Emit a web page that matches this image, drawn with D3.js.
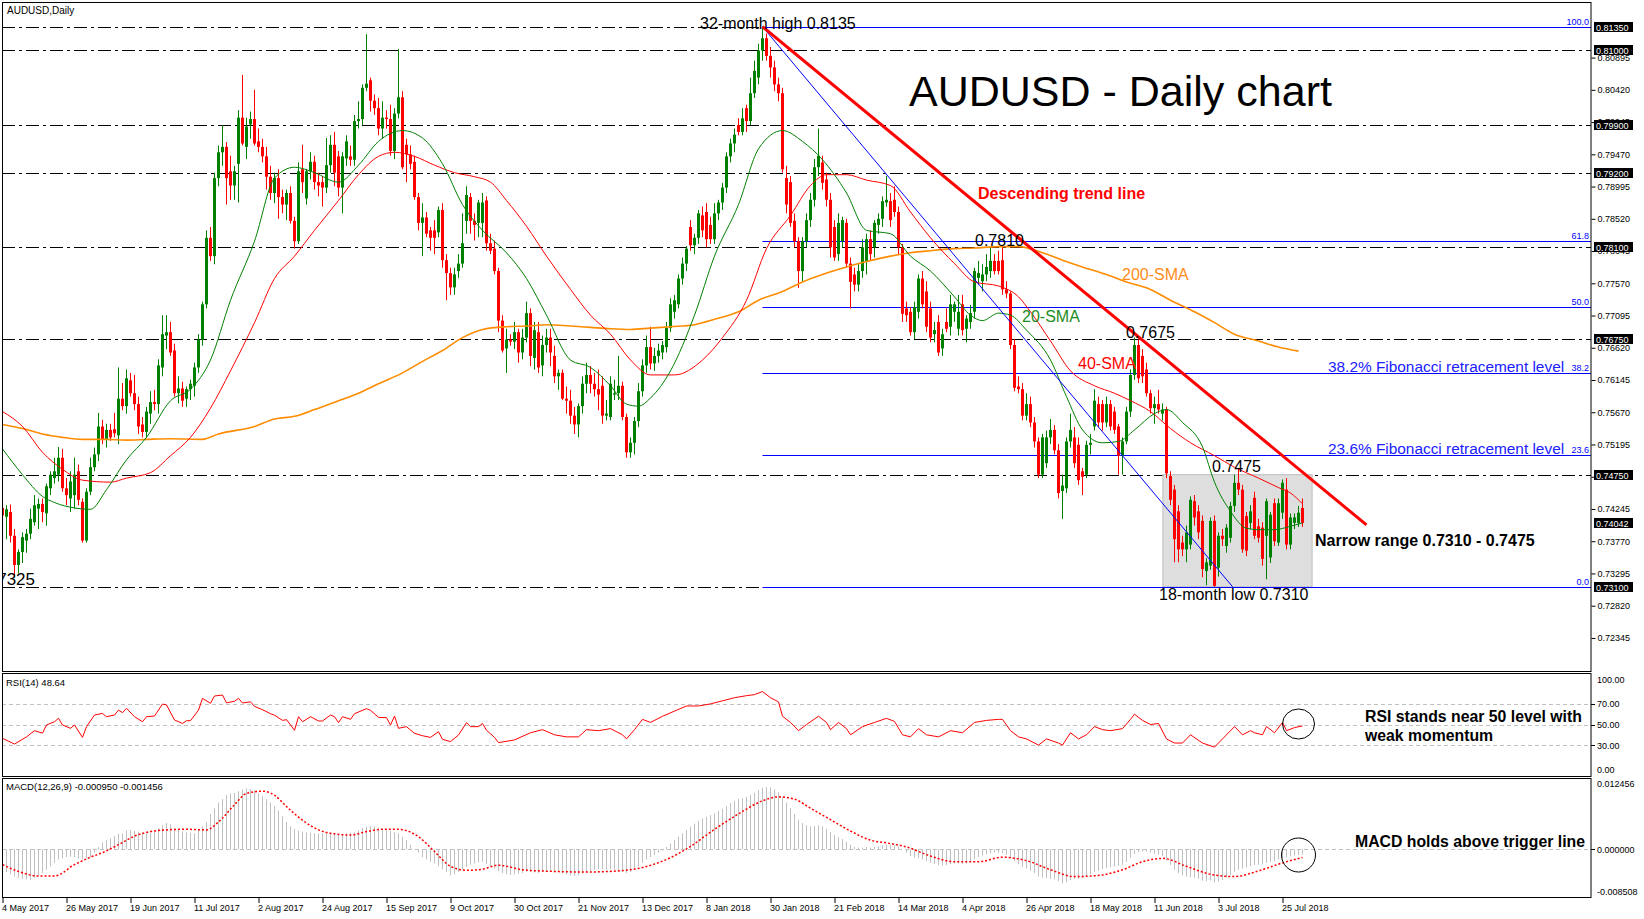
<!DOCTYPE html>
<html><head><meta charset="utf-8">
<script src="https://cdn.jsdelivr.net/npm/d3@7"></script>
<style>
html,body{margin:0;padding:0;background:#fff;}
svg{display:block;font-family:"Liberation Sans",Arial,sans-serif;}
</style></head><body>
<svg id="chart" width="1644" height="919"></svg>
<script>
// ---------------- DATA ----------------
const opens=[
.7426,.7413,.7420,.7385,.7342,.7361,.7378,.7388,.7405,.7425,
.7432,.7418,.7455,.7470,.7475,.7500,.7455,.7440,.7445,.7480,
.7435,.7378,.7450,.7486,.7505,.7546,.7527,.7541,.7542,.7533,
.7587,.7576,.7614,.7595,.7579,.7549,.7538,.7565,.7582,.7579,
.7633,.7680,.7685,.7658,.7595,.7602,.7587,.7601,.7606,.7633,
.7674,.7726,.7824,.7797,.7912,.7950,.7958,.7922,.7901,.7933,
.8001,.7958,.7991,.7999,.7966,.7958,.7944,.7914,.7890,.7912,
.7884,.7873,.7890,.7849,.7819,.7925,.7882,.7922,.7936,.7906,
.7906,.7898,.7931,.7961,.7944,.7898,.7941,.7944,.7939,.7996,
.7999,.8045,.8056,.8026,.8015,.7985,.8001,.7999,.7952,.8007,
.8031,.7961,.7947,.7936,.7884,.7846,.7854,.7835,.7835,.7832,
.7865,.7791,.7772,.7751,.7775,.7786,.7849,.7884,.7849,.7846,
.7846,.7879,.7816,.7808,.7775,.7702,.7661,.7674,.7671,.7685,
.7655,.7677,.7713,.7647,.7685,.7636,.7666,.7677,.7650,.7620,
.7625,.7587,.7584,.7562,.7549,.7576,.7609,.7622,.7609,.7601,
.7606,.7562,.7560,.7593,.7595,.7606,.7560,.7508,.7522,.7554,
.7598,.7636,.7663,.7639,.7650,.7655,.7663,.7691,.7715,.7726,
.7764,.7786,.7840,.7813,.7824,.7857,.7862,.7843,.7822,.7860,
.7876,.7898,.7944,.7963,.7990,.7980,.8015,.7996,.8037,.8060,
.8100,.8118,.8092,.8075,.8050,.8037,.7912,.7906,.7849,.7819,
.7775,.7819,.7850,.7880,.7928,.7935,.7910,.7880,.7840,.7800,
.7819,.7846,.7786,.7770,.7755,.7775,.7790,.7822,.7810,.7843,
.7852,.7876,.7878,.7880,.7862,.7810,.7720,.7715,.7685,.7715,
.7764,.7745,.7720,.7682,.7700,.7661,.7700,.7693,.7715,.7690,
.7726,.7690,.7700,.7715,.7765,.7760,.7770,.7775,.7790,.7790,
.7791,.7748,.7742,.7666,.7605,.7601,.7562,.7579,.7552,.7524,
.7475,.7492,.7530,.7541,.7511,.7451,.7455,.7524,.7530,.7519,
.7480,.7475,.7519,.7546,.7579,.7579,.7552,.7579,.7568,.7546,
.7503,.7524,.7568,.7622,.7666,.7650,.7630,.7595,.7573,.7579,
.7565,.7571,.7473,.7453,.7421,.7375,.7365,.7372,.7436,.7421,
.7407,.7333,.7341,.7407,.7338,.7385,.7370,.7382,.7429,.7463,
.7453,.7414,.7404,.7441,.7399,.7397,.7385,.7353,.7433,.7375,
.7419,.7453,.7372,.7404,.7404,.7426];
const highs=[
.7440,.7430,.7431,.7395,.7365,.7390,.7395,.7425,.7445,.7440,
.7440,.7462,.7480,.7500,.7516,.7513,.7470,.7480,.7500,.7490,
.7440,.7455,.7500,.7515,.7566,.7556,.7550,.7550,.7566,.7633,
.7610,.7630,.7625,.7622,.7590,.7560,.7575,.7598,.7600,.7645,
.7710,.7710,.7700,.7668,.7620,.7612,.7605,.7615,.7640,.7682,
.7730,.7835,.7840,.7920,.7960,.7990,.7965,.7945,.7930,.8012,
.8064,.8001,.8010,.8042,.7985,.7970,.7958,.7930,.7920,.7925,
.7895,.7895,.7900,.7855,.7935,.7961,.7925,.7950,.7945,.7920,
.7915,.7971,.7975,.7980,.7952,.7950,.7975,.7960,.8005,.8025,
.8050,.8124,.8060,.8035,.8030,.8025,.8012,.8020,.8015,.8102,
.8040,.7970,.7960,.7945,.7890,.7875,.7862,.7840,.7850,.7870,
.7875,.7800,.7780,.7780,.7800,.7860,.7900,.7890,.7860,.7880,
.7890,.7885,.7830,.7820,.7780,.7710,.7690,.7682,.7700,.7690,
.7690,.7730,.7720,.7700,.7700,.7680,.7690,.7690,.7665,.7630,
.7630,.7605,.7600,.7575,.7580,.7620,.7640,.7635,.7625,.7630,
.7620,.7585,.7620,.7615,.7650,.7612,.7565,.7530,.7560,.7610,
.7645,.7680,.7693,.7662,.7668,.7672,.7700,.7735,.7740,.7770,
.7795,.7812,.7850,.7830,.7865,.7870,.7875,.7855,.7875,.7880,
.7905,.7950,.7970,.7985,.8000,.8015,.8020,.8060,.8085,.8110,
.8135,.8125,.8105,.8085,.8060,.8045,.7930,.7915,.7860,.7825,
.7825,.7860,.7890,.7940,.7985,.7945,.7920,.7890,.7850,.7860,
.7855,.7852,.7795,.7780,.7785,.7822,.7830,.7835,.7850,.7860,
.7885,.7915,.7890,.7900,.7870,.7815,.7730,.7722,.7730,.7770,
.7775,.7760,.7730,.7700,.7710,.7690,.7720,.7740,.7730,.7740,
.7740,.7710,.7725,.7780,.7790,.7785,.7800,.7810,.7800,.7805,
.7812,.7760,.7745,.7675,.7620,.7610,.7595,.7590,.7560,.7530,
.7535,.7540,.7557,.7548,.7520,.7475,.7530,.7565,.7545,.7530,
.7485,.7525,.7535,.7601,.7590,.7585,.7590,.7585,.7575,.7550,
.7530,.7575,.7630,.7677,.7674,.7660,.7640,.7600,.7590,.7600,
.7580,.7575,.7480,.7460,.7430,.7385,.7400,.7443,.7445,.7430,
.7415,.7352,.7412,.7415,.7390,.7395,.7402,.7435,.7475,.7485,
.7460,.7420,.7430,.7450,.7410,.7405,.7440,.7420,.7440,.7440,
.7468,.7470,.7418,.7418,.7429,.7440];
const lows=[
.7395,.7380,.7375,.7325,.7330,.7345,.7360,.7380,.7400,.7395,
.7405,.7400,.7445,.7462,.7465,.7450,.7430,.7420,.7425,.7430,
.7375,.7375,.7445,.7480,.7495,.7520,.7515,.7525,.7530,.7520,
.7570,.7565,.7590,.7570,.7535,.7530,.7530,.7550,.7570,.7565,
.7620,.7660,.7650,.7590,.7580,.7575,.7575,.7585,.7590,.7625,
.7665,.7720,.7790,.7785,.7900,.7930,.7873,.7880,.7880,.7876,
.7960,.7940,.7970,.7960,.7950,.7935,.7895,.7880,.7875,.7852,
.7860,.7850,.7845,.7808,.7815,.7890,.7873,.7910,.7895,.7885,
.7870,.7890,.7920,.7900,.7885,.7860,.7930,.7930,.7930,.7985,
.7990,.8040,.8010,.8005,.7975,.7970,.7985,.7945,.7940,.8000,
.7925,.7906,.7925,.7880,.7835,.7797,.7825,.7805,.7800,.7825,
.7780,.7732,.7740,.7740,.7765,.7780,.7830,.7830,.7820,.7825,
.7825,.7805,.7800,.7770,.7685,.7655,.7625,.7665,.7660,.7640,
.7645,.7670,.7635,.7630,.7625,.7620,.7655,.7635,.7610,.7600,
.7585,.7565,.7550,.7535,.7530,.7565,.7595,.7595,.7590,.7570,
.7550,.7555,.7555,.7585,.7585,.7555,.7500,.7500,.7505,.7545,
.7590,.7625,.7630,.7628,.7640,.7645,.7655,.7685,.7705,.7720,
.7755,.7775,.7805,.7800,.7815,.7825,.7810,.7815,.7815,.7850,
.7865,.7890,.7935,.7950,.7975,.7975,.7980,.7990,.8030,.8050,
.8085,.8085,.8060,.8040,.8025,.7920,.7860,.7840,.7810,.7750,
.7760,.7810,.7840,.7870,.7915,.7895,.7870,.7795,.7790,.7790,
.7810,.7780,.7720,.7745,.7745,.7765,.7770,.7790,.7795,.7830,
.7840,.7870,.7840,.7855,.7800,.7700,.7700,.7680,.7675,.7705,
.7720,.7685,.7670,.7670,.7650,.7650,.7685,.7680,.7700,.7680,
.7680,.7670,.7690,.7705,.7755,.7745,.7760,.7765,.7770,.7770,
.7740,.7735,.7660,.7598,.7595,.7555,.7555,.7545,.7515,.7470,
.7470,.7485,.7520,.7505,.7440,.7410,.7448,.7515,.7485,.7460,
.7445,.7470,.7505,.7540,.7545,.7540,.7545,.7540,.7535,.7475,
.7475,.7520,.7560,.7615,.7610,.7610,.7590,.7565,.7550,.7565,
.7555,.7470,.7430,.7346,.7346,.7355,.7346,.7365,.7400,.7380,
.7324,.7312,.7335,.7310,.7325,.7370,.7360,.7375,.7420,.7445,
.7360,.7355,.7395,.7380,.7375,.7341,.7321,.7345,.7370,.7370,
.7410,.7365,.7365,.7395,.7398,.7398];
const closes=[
.7415,.7424,.7385,.7342,.7361,.7383,.7388,.7410,.7430,.7432,
.7420,.7458,.7475,.7480,.7500,.7455,.7445,.7465,.7475,.7438,
.7378,.7450,.7486,.7505,.7546,.7527,.7541,.7530,.7536,.7587,
.7576,.7617,.7595,.7579,.7546,.7538,.7568,.7582,.7579,.7636,
.7682,.7685,.7655,.7595,.7602,.7584,.7601,.7609,.7633,.7674,
.7726,.7824,.7797,.7912,.7950,.7958,.7912,.7901,.7922,.8001,
.7963,.7988,.7999,.7963,.7958,.7944,.7914,.7890,.7912,.7884,
.7873,.7890,.7849,.7819,.7922,.7906,.7922,.7936,.7906,.7901,
.7898,.7931,.7961,.7920,.7898,.7944,.7966,.7939,.7996,.7999,
.8045,.8051,.8026,.8015,.7985,.8001,.7999,.7952,.8007,.8031,
.7928,.7947,.7933,.7884,.7846,.7854,.7830,.7824,.7824,.7865,
.7791,.7772,.7751,.7770,.7786,.7816,.7887,.7849,.7843,.7876,
.7876,.7816,.7805,.7775,.7702,.7658,.7674,.7671,.7685,.7655,
.7677,.7713,.7650,.7688,.7633,.7666,.7677,.7655,.7620,.7625,
.7587,.7584,.7562,.7549,.7576,.7609,.7622,.7609,.7601,.7593,
.7562,.7565,.7609,.7595,.7606,.7560,.7508,.7522,.7554,.7598,
.7636,.7663,.7639,.7650,.7658,.7666,.7691,.7726,.7732,.7764,
.7786,.7808,.7813,.7824,.7860,.7835,.7822,.7822,.7860,.7876,
.7898,.7944,.7963,.7976,.7980,.8000,.7996,.8037,.8070,.8100,
.8118,.8092,.8075,.8050,.8037,.7925,.7873,.7846,.7819,.7775,
.7819,.7850,.7880,.7928,.7945,.7905,.7880,.7810,.7795,.7846,
.7850,.7786,.7759,.7755,.7775,.7810,.7822,.7800,.7846,.7852,
.7878,.7880,.7850,.7862,.7810,.7712,.7710,.7685,.7722,.7764,
.7726,.7693,.7677,.7688,.7655,.7682,.7690,.7726,.7726,.7715,
.7688,.7705,.7713,.7775,.7772,.7770,.7781,.7790,.7775,.7775,
.7748,.7742,.7666,.7603,.7601,.7562,.7579,.7552,.7524,.7475,
.7530,.7530,.7541,.7511,.7448,.7459,.7524,.7541,.7492,.7467,
.7472,.7519,.7522,.7584,.7552,.7552,.7579,.7546,.7541,.7503,
.7524,.7568,.7622,.7666,.7617,.7620,.7595,.7573,.7579,.7571,
.7571,.7477,.7438,.7380,.7365,.7365,.7390,.7438,.7412,.7390,
.7336,.7346,.7407,.7311,.7385,.7380,.7397,.7429,.7463,.7453,
.7365,.7363,.7421,.7385,.7382,.7351,.7436,.7416,.7377,.7433,
.7463,.7372,.7412,.7412,.7419,.7404];

// moving averages (bar index, value)
const sma20Idx=[0,5,10,13,18,22,26,31,36,42,47,52,57,63,68,73,78,84,89,94,100,105,110,115,120,126,131,136,142,147,152,156,159,162,167,173,178,184,189,195,200,205,211,216,222,227,232,238,242,245,249,252,256,262,266,270,275,279,283,288,291,295,300,303,307,311,314,318,322,325];
const sma20Val=[.7513,.7475,.7443,.7434,.7426,.7424,.7453,.7497,.7530,.7584,.7601,.7644,.7732,.7819,.7912,.7928,.7920,.7906,.7931,.7966,.7982,.7971,.7933,.7873,.7835,.7802,.7764,.7710,.7644,.7633,.7606,.7579,.7576,.7588,.7628,.7710,.7797,.7873,.7955,.7982,.7966,.7939,.7890,.7835,.7830,.7797,.7775,.7737,.7710,.7702,.7713,.7710,.7688,.7644,.7590,.7541,.7522,.7524,.7541,.7565,.7571,.7552,.7516,.7464,.7421,.7396,.7394,.7394,.7399,.7404];
const sma40Idx=[0,5,10,15,20,27,31,37,42,47,52,57,63,68,73,78,84,89,94,98,103,108,113,118,122,126,131,136,142,147,152,157,162,168,175,180,186,191,197,202,206,211,216,222,227,232,238,243,249,254,257,262,267,273,278,282,287,292,297,303,308,314,319,322,325];
const sma40Val=[.7568,.7546,.7508,.7483,.7467,.7464,.7470,.7478,.7503,.7530,.7573,.7628,.7699,.7764,.7797,.7835,.7879,.7917,.7944,.7950,.7944,.7931,.7920,.7914,.7906,.7879,.7841,.7797,.7748,.7710,.7682,.7644,.7622,.7622,.7644,.7677,.7732,.7808,.7857,.7901,.7917,.7917,.7909,.7901,.7862,.7824,.7786,.7759,.7753,.7737,.7715,.7672,.7628,.7606,.7595,.7584,.7568,.7543,.7522,.7503,.7486,.7470,.7456,.7448,.7432];
const sma200Idx=[0,5,10,15,20,26,31,36,42,50,54,63,68,73,78,84,89,94,100,105,110,115,120,126,131,136,142,147,152,157,162,167,173,178,184,189,195,200,205,211,216,222,227,232,238,243,249,254,260,265,270,276,281,287,292,298,303,308,314,319,324];
const sma200Val=[.7549,.7543,.7535,.7530,.7527,.7527,.7526,.7527,.7528,.7527,.7535,.7546,.7557,.7561,.7571,.7584,.7595,.7609,.7625,.7642,.7658,.7677,.7689,.7693,.7694,.7696,.7694,.7692,.7690,.7689,.7691,.7693,.7696,.7704,.7715,.7732,.7745,.7759,.7770,.7781,.7789,.7797,.7802,.7805,.7808,.7809,.7811,.7811,.7802,.7791,.7781,.7770,.7759,.7748,.7732,.7715,.7699,.7682,.7672,.7663,.7657];

// RSI(14)
const rsiIdx=[0,3,6,8,10,11,13,14,15,17,18,20,21,23,25,26,28,29,30,31,33,35,36,38,40,41,43,45,46,47,49,50,52,53,55,56,58,59,60,62,63,65,67,68,70,71,73,74,75,77,79,80,82,83,84,85,87,88,91,92,94,96,97,98,99,101,103,105,107,109,110,112,114,116,117,119,120,121,123,124,128,132,135,138,141,144,146,149,152,155,156,158,160,162,165,168,171,174,177,180,183,186,188,190,192,194,195,197,199,201,204,206,207,209,211,212,215,218,221,223,225,227,229,231,234,237,240,243,246,249,250,252,254,256,259,261,264,265,267,269,271,273,275,277,280,282,283,285,287,289,291,293,295,297,300,303,305,308,310,312,313,315,316,318,320,321,323,325];
const rsiVal=[36.6,31,38,44,41.6,49.5,52.7,56,49.5,46.3,49.5,37.5,47.9,59.2,60.8,57.6,59.2,64,61.5,65.7,57.6,52.7,57.6,58.2,69.9,69,54.4,51,53.7,53.7,64,75.4,70.6,77.7,78.6,71,72.6,75.4,70.9,72,67.6,64.4,60.5,59,54,54.7,44.4,57.6,52.7,57.6,53.4,53.4,59.2,57.6,51.8,57.6,55,60.5,65.4,63.8,56.9,56.6,49.5,58.2,46.3,47.9,41.4,39.1,37.5,43,35.6,33.4,39.8,51.8,47.9,47.9,51,44.4,37.5,32.4,35,42,45,40,38,38,45,44,46,40,36,45,55,52,58,63,68,68,70,73,76,78,79,82,76,72,58,52,44,50,58,52,45,52,46,40,48,52,56,53,40,38,46,40,38,44,42,52,54,55,55,44,38,36,30,36,32,30,42,36,40,48,45,44,46,55,60,54,50,51,36,32,32,40,32,28,36,48,40,44,42,40,48,42,52,44,47,48.64];

// MACD(12,26,9) main (histogram) per bar, and signal line
const macdHist=[
-.0036,-.0040,-.0044,-.0048,-.0050,-.0052,-.0053,-.0054,-.0050,-.0046,
-.0042,-.0036,-.0030,-.0024,-.0018,-.0016,-.0014,-.0013,-.0014,-.0016,
-.0018,-.0016,-.0014,-.0006,.0004,.0012,.0016,.0019,.0023,.0027,
.0028,.0033,.0034,.0032,.0031,.0029,.0028,.0028,.0031,.0037,
.0042,.0046,.0044,.0037,.0034,.0031,.0030,.0029,.0028,.0034,
.0040,.0048,.0062,.0072,.0082,.0088,.0095,.0098,.0099,.0102,
.0105,.0107,.0106,.0104,.0098,.0093,.0088,.0082,.0076,.0068,
.0058,.0048,.0040,.0036,.0033,.0031,.0030,.0029,.0028,.0028,
.0028,.0028,.0027,.0026,.0027,.0027,.0028,.0029,.0030,.0033,
.0037,.0040,.0041,.0040,.0038,.0036,.0034,.0032,.0030,.0028,
.0022,.0016,.0008,.0001,-.0006,-.0014,-.0018,-.0022,-.0025,-.0030,
-.0035,-.0040,-.0046,-.0044,-.0040,-.0036,-.0031,-.0027,-.0025,-.0023,
-.0022,-.0026,-.0030,-.0034,-.0038,-.0042,-.0044,-.0045,-.0044,-.0043,
-.0042,-.0040,-.0040,-.0041,-.0042,-.0040,-.0038,-.0037,-.0038,-.0040,
-.0042,-.0044,-.0046,-.0047,-.0046,-.0043,-.0040,-.0038,-.0036,-.0035,
-.0035,-.0036,-.0035,-.0036,-.0037,-.0040,-.0042,-.0040,-.0036,-.0030,
-.0024,-.0018,-.0014,-.0010,-.0006,-.0002,.0004,.0010,.0016,.0022,
.0028,.0034,.0040,.0045,.0050,.0054,.0057,.0060,.0063,.0067,
.0071,.0076,.0081,.0085,.0088,.0090,.0092,.0095,.0099,.0104,
.0108,.0109,.0108,.0105,.0100,.0092,.0082,.0072,.0062,.0052,
.0046,.0042,.0040,.0041,.0042,.0040,.0036,.0030,.0025,.0021,
.0018,.0013,.0008,.0004,.0003,.0003,.0004,.0003,.0004,.0005,
.0007,.0008,.0008,.0007,.0005,.0000,-.0006,-.0012,-.0015,-.0016,
-.0018,-.0021,-.0024,-.0026,-.0028,-.0029,-.0028,-.0026,-.0025,-.0025,
-.0026,-.0025,-.0022,-.0018,-.0014,-.0011,-.0009,-.0007,-.0006,-.0006,
-.0007,-.0010,-.0015,-.0021,-.0026,-.0031,-.0034,-.0038,-.0042,-.0048,
-.0050,-.0051,-.0052,-.0053,-.0056,-.0060,-.0058,-.0054,-.0052,-.0052,
-.0051,-.0048,-.0044,-.0040,-.0038,-.0035,-.0033,-.0031,-.0030,-.0029,
-.0027,-.0022,-.0015,-.0008,-.0005,-.0004,-.0004,-.0006,-.0008,-.0010,
-.0012,-.0020,-.0028,-.0036,-.0042,-.0046,-.0048,-.0049,-.0050,-.0052,
-.0055,-.0056,-.0055,-.0058,-.0057,-.0054,-.0050,-.0045,-.0040,-.0036,
-.0034,-.0032,-.0030,-.0028,-.0027,-.0026,-.0024,-.0022,-.0021,-.0018,
-.0016,-.0014,-.0012,-.0011,-.0010,-.00095];
const sigIdx=[0,4,9,13,18,22,25,29,33,37,41,46,51,54,58,61,65,68,71,75,79,83,87,91,95,99,104,108,112,116,120,124,130,138,146,154,160,166,172,178,184,190,194,198,202,207,212,217,222,226,232,238,244,250,256,262,268,274,280,285,290,296,302,308,314,320,325];
const sigVal=[-.0027,-.0039,-.0047,-.0047,-.0027,-.0014,-.0006,.0008,.0023,.0031,.0034,.0035,.0034,.0048,.0078,.0098,.0102,.0095,.0075,.0051,.0034,.0027,.0025,.0031,.0035,.0035,.0022,-.0004,-.0030,-.0037,-.0035,-.0028,-.0036,-.0039,-.0040,-.0038,-.0032,-.0018,.0005,.0035,.0062,.0085,.0092,.0088,.0072,.0052,.0032,.0016,.0010,.0004,-.0012,-.0022,-.0022,-.0014,-.0020,-.0036,-.0048,-.0046,-.0036,-.0022,-.0016,-.0030,-.0044,-.0048,-.0038,-.0024,-.001456];

// axis / annotation values
const dateLabels=["4 May 2017","26 May 2017","19 Jun 2017","11 Jul 2017","2 Aug 2017","24 Aug 2017","15 Sep 2017","9 Oct 2017","30 Oct 2017","21 Nov 2017","13 Dec 2017","8 Jan 2018","30 Jan 2018","21 Feb 2018","14 Mar 2018","4 Apr 2018","26 Apr 2018","18 May 2018","11 Jun 2018","3 Jul 2018","25 Jul 2018"];
const dateIdx=[0,16,32,48,64,80,96,112,128,144,160,176,192,208,224,240,256,272,288,304,320];
const priceTicks=[0.72345,0.72820,0.73295,0.73770,0.74245,0.74720,0.75195,0.75670,0.76145,0.76620,0.77095,0.77570,0.78045,0.78520,0.78995,0.79470,0.79945,0.80420,0.80895];
const hLevels=[0.8135,0.8100,0.7990,0.7920,0.7810,0.7675,0.7475,0.7310];
const priceBoxes=[0.81350,0.81000,0.79900,0.79200,0.78100,0.76750,0.74750,0.74042,0.73100];
const fibPct=[100,61.8,50,38.2,23.6,0];
const fibLow=0.7310, fibHigh=0.8135, fibStartIdx=190;
const redTrend=[[190,0.8135],[341,0.7401]];
const blueTrend=[[190,0.8135],[307.5,0.7310]];
const rangeBox={i0:290.1,i1:327.4,p0:0.7310,p1:0.7475};
const rsiLevels=[70,50,30];
const rsiLabels=[100,70,50,30,0];
const macdLabels=[0.012456,0,-0.008508];

// ---------------- DRAW ----------------
const svg=d3.select('#chart');
const N=closes.length;
const x=d3.scaleLinear().domain([0,325]).range([2.5,1302.5]);
const y=d3.scaleLinear().domain([0.71858,0.81714]).range([671,2]);
const yR=d3.scaleLinear().domain([0,100]).range([776,673]);
const yM=d3.scaleLinear().domain([-0.008508,0.012456]).range([897.7,778.3]);
const PR=1591; // right edge of plot
const GREEN='#008000', RED='#ff0000';

const defs=svg.append('defs');
function clip(id,x0,y0,x1,y1){defs.append('clipPath').attr('id',id).append('rect').attr('x',x0).attr('y',y0).attr('width',x1-x0).attr('height',y1-y0);}
clip('cMain',2.5,2.5,PR,671);
clip('cRsi',2.5,674,PR,776.5);
clip('cMacd',2.5,779,PR,897.5);

const main=svg.append('g').attr('clip-path','url(#cMain)');
const crisp=v=>Math.round(v)+0.5;

// horizontal dash-dot levels
main.selectAll('line.lv').data(hLevels).join('line')
  .attr('x1',2).attr('x2',PR).attr('y1',d=>crisp(y(d))).attr('y2',d=>crisp(y(d)))
  .attr('stroke','#000').attr('stroke-width',1).attr('stroke-dasharray','13,4,3,4');

// range box
main.append('rect').attr('x',x(rangeBox.i0)).attr('y',y(rangeBox.p1))
  .attr('width',x(rangeBox.i1)-x(rangeBox.i0)).attr('height',y(rangeBox.p0)-y(rangeBox.p1))
  .attr('fill','#dedede').attr('stroke','#bdbdbd');

// fibonacci lines
const fibVals=fibPct.map(p=>fibLow+p/100*(fibHigh-fibLow));
main.selectAll('line.fib').data(fibVals).join('line')
  .attr('x1',x(fibStartIdx)).attr('x2',PR).attr('y1',d=>crisp(y(d))).attr('y2',d=>crisp(y(d)))
  .attr('stroke','#0000ff').attr('stroke-width',1);
main.selectAll('text.fibl').data(fibPct).join('text')
  .attr('x',PR-2).attr('y',(d,k)=>crisp(y(fibVals[k]))-2.5).attr('text-anchor','end')
  .attr('font-size',9).attr('fill','#0000ff').text(d=>d.toFixed(1));

// candles
const idx=d3.range(N);
const cg=main.append('g');
cg.selectAll('line.wick').data(idx).join('line')
  .attr('x1',i=>x(i)).attr('x2',i=>x(i)).attr('y1',i=>y(highs[i])).attr('y2',i=>y(lows[i]))
  .attr('stroke',i=>closes[i]>=opens[i]?GREEN:RED).attr('stroke-width',1);
cg.selectAll('rect.body').data(idx).join('rect')
  .attr('x',i=>x(i)-1.5).attr('width',3)
  .attr('y',i=>y(Math.max(opens[i],closes[i])))
  .attr('height',i=>Math.max(1,Math.abs(y(opens[i])-y(closes[i]))))
  .attr('fill',i=>closes[i]>=opens[i]?GREEN:RED);

// moving averages
const lineP=d3.line().x(d=>x(d[0])).y(d=>y(d[1])).curve(d3.curveMonotoneX);
function zip(a,b){return a.map((v,k)=>[v,b[k]]);}
main.append('path').attr('d',lineP(zip(sma200Idx,sma200Val))).attr('fill','none').attr('stroke','#ff8c00').attr('stroke-width',1.6);
main.append('path').attr('d',lineP(zip(sma40Idx,sma40Val))).attr('fill','none').attr('stroke',RED).attr('stroke-width',1);
main.append('path').attr('d',lineP(zip(sma20Idx,sma20Val))).attr('fill','none').attr('stroke',GREEN).attr('stroke-width',1);

// trend lines
main.append('line').attr('x1',x(blueTrend[0][0])).attr('y1',y(blueTrend[0][1])).attr('x2',x(blueTrend[1][0])).attr('y2',y(blueTrend[1][1]))
  .attr('stroke','#0000ff').attr('stroke-width',1);
main.append('line').attr('x1',x(redTrend[0][0])).attr('y1',y(redTrend[0][1])).attr('x2',x(redTrend[1][0])).attr('y2',y(redTrend[1][1]))
  .attr('stroke',RED).attr('stroke-width',3);

// annotations main panel
function txt(g,s,x0,y0,size,color,weight,anchor){return g.append('text').attr('x',x0).attr('y',y0).attr('font-size',size).attr('fill',color).attr('font-weight',weight||'normal').attr('text-anchor',anchor||'start').text(s);}
txt(main,'AUDUSD,Daily',7,14,10,'#000');
txt(main,'32-month high 0.8135',700,29,16,'#000');
txt(main,'AUDUSD - Daily chart',909,106,43,'#000');
txt(main,'Descending trend line',978,199,16,'#ff0000','bold');
txt(main,'0.7810',975,246,16,'#000');
txt(main,'200-SMA',1122,280,16,'#ff8c1a');
txt(main,'20-SMA',1022,322,16,'#1e8c1e');
txt(main,'0.7675',1126,338,16,'#000');
txt(main,'40-SMA',1078,369,16,'#ff0000');
txt(main,'38.2% Fibonacci retracement level',1328,372,15.4,'#2020ff');
txt(main,'23.6% Fibonacci retracement level',1328,454,15.4,'#2020ff');
txt(main,'0.7475',1212,472,16,'#000');
txt(main,'Narrow range 0.7310 - 0.7475',1315,546,16,'#000','bold');
txt(main,'18-month low 0.7310',1159,600,16,'#000');
txt(main,'0.7325',35,585,17,'#000',null,'end');

// ---------------- RSI panel ----------------
const rsiG=svg.append('g').attr('clip-path','url(#cRsi)');
rsiG.selectAll('line.rl').data(rsiLevels).join('line')
  .attr('x1',2).attr('x2',PR).attr('y1',d=>crisp(yR(d))).attr('y2',d=>crisp(yR(d)))
  .attr('stroke','#c0c0c0').attr('stroke-dasharray','4,3');
const lineR=d3.line().x(d=>x(d[0])).y(d=>yR(d[1]));
rsiG.append('path').attr('d',lineR(zip(rsiIdx,rsiVal))).attr('fill','none').attr('stroke',RED).attr('stroke-width',1);
txt(rsiG,'RSI(14) 48.64',6,686,9.5,'#000');
txt(rsiG,'RSI stands near 50 level with',1365,722,15.8,'#000','bold');
txt(rsiG,'weak momentum',1365,741,15.8,'#000','bold');
rsiG.append('ellipse').attr('cx',x(324)).attr('cy',724).attr('rx',16).attr('ry',15).attr('fill','none').attr('stroke','#000');

// ---------------- MACD panel ----------------
const macdG=svg.append('g').attr('clip-path','url(#cMacd)');
macdG.append('line').attr('x1',2).attr('x2',PR).attr('y1',crisp(yM(0))).attr('y2',crisp(yM(0)))
  .attr('stroke','#c0c0c0').attr('stroke-dasharray','4,3');
macdG.selectAll('line.h').data(idx).join('line')
  .attr('x1',i=>x(i)).attr('x2',i=>x(i)).attr('y1',yM(0)).attr('y2',i=>yM(macdHist[i]))
  .attr('stroke','#c0c0c0').attr('stroke-width',1);
const lineM=d3.line().x(d=>x(d[0])).y(d=>yM(d[1])).curve(d3.curveMonotoneX);
macdG.append('path').attr('d',lineM(zip(sigIdx,sigVal))).attr('fill','none').attr('stroke',RED).attr('stroke-width',1.5).attr('stroke-dasharray','2,2');
txt(macdG,'MACD(12,26,9) -0.000950 -0.001456',6,790,9.5,'#000');
txt(macdG,'MACD holds above trigger line',1355,847,15.8,'#000','bold');
macdG.append('circle').attr('cx',x(324)).attr('cy',855).attr('r',17).attr('fill','none').attr('stroke','#000');

// ---------------- frames ----------------
const fr=svg.append('g').attr('fill','none').attr('stroke','#000').attr('stroke-width',1);
fr.append('rect').attr('x',2.5).attr('y',2.5).attr('width',PR-2.5).attr('height',669);
fr.append('rect').attr('x',2.5).attr('y',673.5).attr('width',PR-2.5).attr('height',103);
fr.append('rect').attr('x',2.5).attr('y',778.5).attr('width',PR-2.5).attr('height',119);

// price axis
const ax=svg.append('g').attr('transform',`translate(${PR+0.5},0)`)
  .call(d3.axisRight(y).tickValues(priceTicks).tickSize(4).tickSizeOuter(0).tickFormat(d3.format('.5f')));
ax.select('.domain').remove();
ax.selectAll('text').attr('font-size',9).attr('font-family','"Liberation Sans",Arial,sans-serif').attr('x',6).attr('fill','#000');
ax.selectAll('line').attr('stroke','#000');

// price boxes
const pb=svg.append('g');
pb.selectAll('rect').data(priceBoxes).join('rect')
  .attr('x',1594).attr('width',39).attr('y',d=>Math.round(y(d))-5).attr('height',10).attr('fill','#000');
pb.selectAll('text').data(priceBoxes).join('text')
  .attr('x',1596).attr('y',d=>Math.round(y(d))+3.5).attr('font-size',9).attr('fill','#fff').text(d=>d.toFixed(5));

// RSI axis labels
const ra=svg.append('g');
ra.selectAll('line').data(rsiLevels).join('line').attr('x1',PR).attr('x2',PR+4).attr('y1',d=>crisp(yR(d))).attr('y2',d=>crisp(yR(d))).attr('stroke','#000');
ra.selectAll('text').data(rsiLabels).join('text')
  .attr('x',PR+6).attr('y',d=>d===100?683:d===0?773:yR(d)+3.5).attr('font-size',9).attr('fill','#000').text(d=>d.toFixed(2));

// MACD axis labels
const ma=svg.append('g');
ma.append('line').attr('x1',PR).attr('x2',PR+4).attr('y1',crisp(yM(0))).attr('y2',crisp(yM(0))).attr('stroke','#000');
ma.selectAll('text').data(macdLabels).join('text')
  .attr('x',PR+6).attr('y',(d,k)=>k===0?787:k===2?895:yM(d)+3.5).attr('font-size',9).attr('fill','#000').text(d=>d.toFixed(6));

// date axis
const dx=svg.append('g').attr('transform','translate(0,898)')
  .call(d3.axisBottom(x).tickValues(dateIdx).tickSize(5).tickSizeOuter(0).tickFormat((d,k)=>dateLabels[k]));
dx.select('.domain').remove();
dx.selectAll('line').attr('stroke','#000');
dx.selectAll('text').attr('font-size',9).attr('font-family','"Liberation Sans",Arial,sans-serif').attr('text-anchor','start').attr('dx',-1).attr('y',7).attr('fill','#000');
</script>
</body></html>
